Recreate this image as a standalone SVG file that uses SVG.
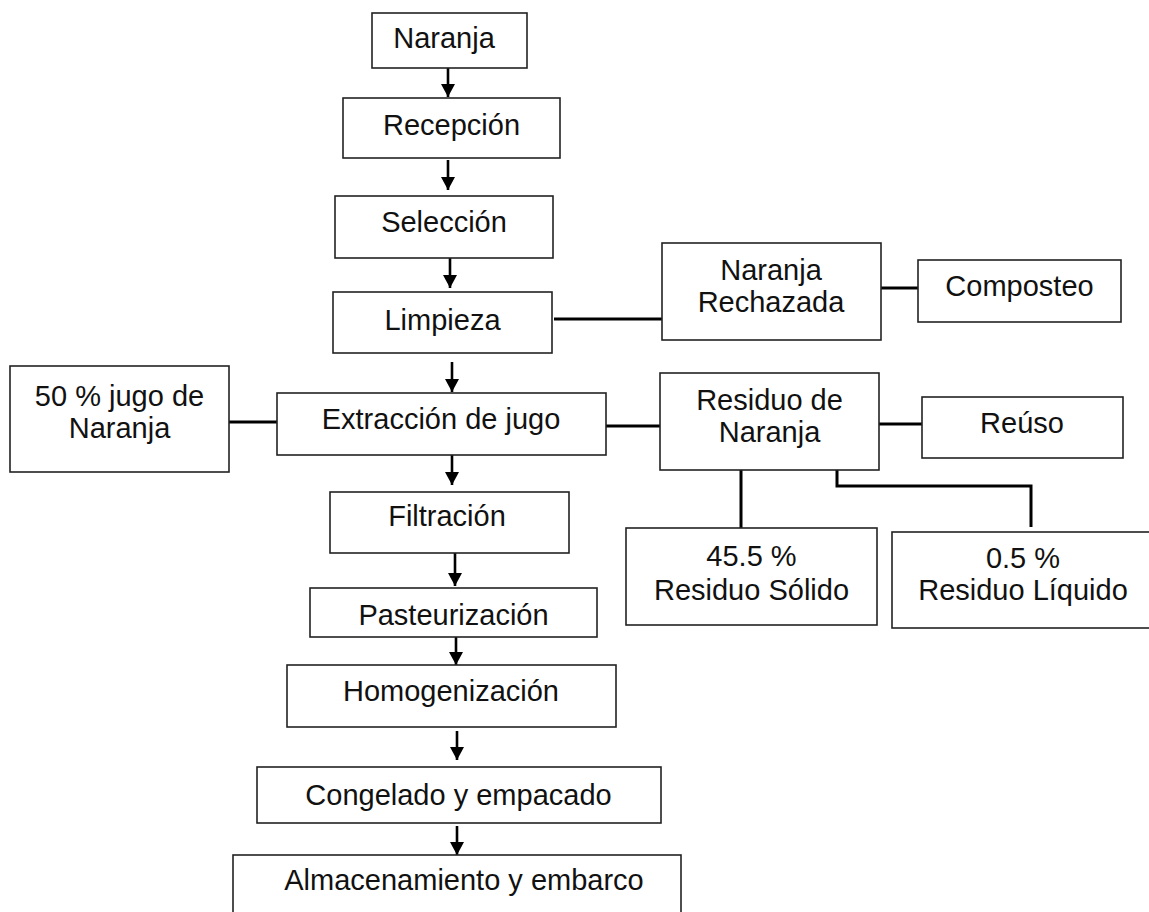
<svg xmlns="http://www.w3.org/2000/svg" width="1149" height="912" viewBox="0 0 1149 912">
<style>
.box{fill:#fff;stroke:#222;stroke-width:1.6}
.t{font-family:"Liberation Sans",Arial,sans-serif;font-size:29px;fill:#111;text-anchor:middle}
.arrow{stroke:#000;stroke-width:2.6;fill:none}
.link{stroke:#000;stroke-width:3;fill:none}
</style>
<defs>
<marker id="ah" markerUnits="userSpaceOnUse" markerWidth="16" markerHeight="16" refX="13" refY="7" orient="auto">
<path d="M0,0 L13,7 L0,14 z" fill="#000"/>
</marker>
</defs>
<rect width="1149" height="912" fill="#fff"/>
<g id="connectors">
<line class="arrow" x1="448" y1="68" x2="448" y2="97" marker-end="url(#ah)"/>
<line class="arrow" x1="448" y1="160" x2="448" y2="190" marker-end="url(#ah)"/>
<line class="arrow" x1="450" y1="258" x2="450" y2="288" marker-end="url(#ah)"/>
<line class="arrow" x1="452" y1="362" x2="452" y2="392" marker-end="url(#ah)"/>
<line class="arrow" x1="452" y1="455" x2="452" y2="485" marker-end="url(#ah)"/>
<line class="arrow" x1="455" y1="553" x2="455" y2="586" marker-end="url(#ah)"/>
<line class="arrow" x1="456" y1="637" x2="456" y2="665" marker-end="url(#ah)"/>
<line class="arrow" x1="457" y1="731" x2="457" y2="760" marker-end="url(#ah)"/>
<line class="arrow" x1="457" y1="826" x2="457" y2="855" marker-end="url(#ah)"/>
<line class="link" x1="554" y1="319" x2="662" y2="319"/>
<line class="link" x1="881" y1="288" x2="918" y2="288"/>
<line class="link" x1="229" y1="422" x2="277" y2="422"/>
<line class="link" x1="606" y1="426" x2="660" y2="426"/>
<line class="link" x1="879" y1="424" x2="922" y2="424"/>
<line class="link" x1="741" y1="470" x2="741" y2="528"/>
<polyline class="link" points="837,470 837,486 1031,486 1031,527"/>
</g>
<g id="naranja"><rect class="box" x="372" y="13" width="155" height="55"/><text class="t" x="444" y="48">Naranja</text></g>
<g id="recepcion"><rect class="box" x="343" y="98" width="217" height="60"/><text class="t" x="451.5" y="134.5">Recepción</text></g>
<g id="seleccion"><rect class="box" x="335" y="196" width="218" height="62"/><text class="t" x="444" y="231.5">Selección</text></g>
<g id="limpieza"><rect class="box" x="333" y="292" width="219" height="61"/><text class="t" x="442.5" y="329.5">Limpieza</text></g>
<g id="rechazada"><rect class="box" x="662" y="243" width="219" height="97"/><text class="t" x="771" y="279.5">Naranja</text><text class="t" x="771" y="312">Rechazada</text></g>
<g id="composteo"><rect class="box" x="918" y="260" width="203" height="62"/><text class="t" x="1019.5" y="296">Composteo</text></g>
<g id="jugo50"><rect class="box" x="10" y="366" width="219" height="106"/><text class="t" x="119.5" y="405.5">50 % jugo de</text><text class="t" x="119.5" y="438">Naranja</text></g>
<g id="extraccion"><rect class="box" x="277" y="393" width="329" height="62"/><text class="t" x="441" y="428.5">Extracción de jugo</text></g>
<g id="residuo"><rect class="box" x="660" y="373" width="219" height="97"/><text class="t" x="769.5" y="409.5">Residuo de</text><text class="t" x="769.5" y="441.5">Naranja</text></g>
<g id="reuso"><rect class="box" x="922" y="397" width="201" height="61"/><text class="t" x="1022" y="432.5">Reúso</text></g>
<g id="solido"><rect class="box" x="626" y="528" width="251" height="97"/><text class="t" x="751.5" y="566">45.5 %</text><text class="t" x="751.5" y="599.5">Residuo Sólido</text></g>
<g id="liquido"><rect class="box" x="892" y="532" width="262" height="96"/><text class="t" x="1023" y="567.5">0.5 %</text><text class="t" x="1023" y="599.5">Residuo Líquido</text></g>
<g id="filtracion"><rect class="box" x="330" y="492" width="239" height="61"/><text class="t" x="447" y="526">Filtración</text></g>
<g id="pasteurizacion"><rect class="box" x="310" y="588" width="287" height="49"/><text class="t" x="453.5" y="625">Pasteurización</text></g>
<g id="homogenizacion"><rect class="box" x="287" y="665" width="329" height="62"/><text class="t" x="451" y="701">Homogenización</text></g>
<g id="congelado"><rect class="box" x="257" y="767" width="404" height="56"/><text class="t" x="458.5" y="804.5">Congelado y empacado</text></g>
<g id="almacenamiento"><rect class="box" x="233" y="855" width="448" height="80"/><text class="t" x="464" y="889.5">Almacenamiento y embarco</text></g>
</svg>
